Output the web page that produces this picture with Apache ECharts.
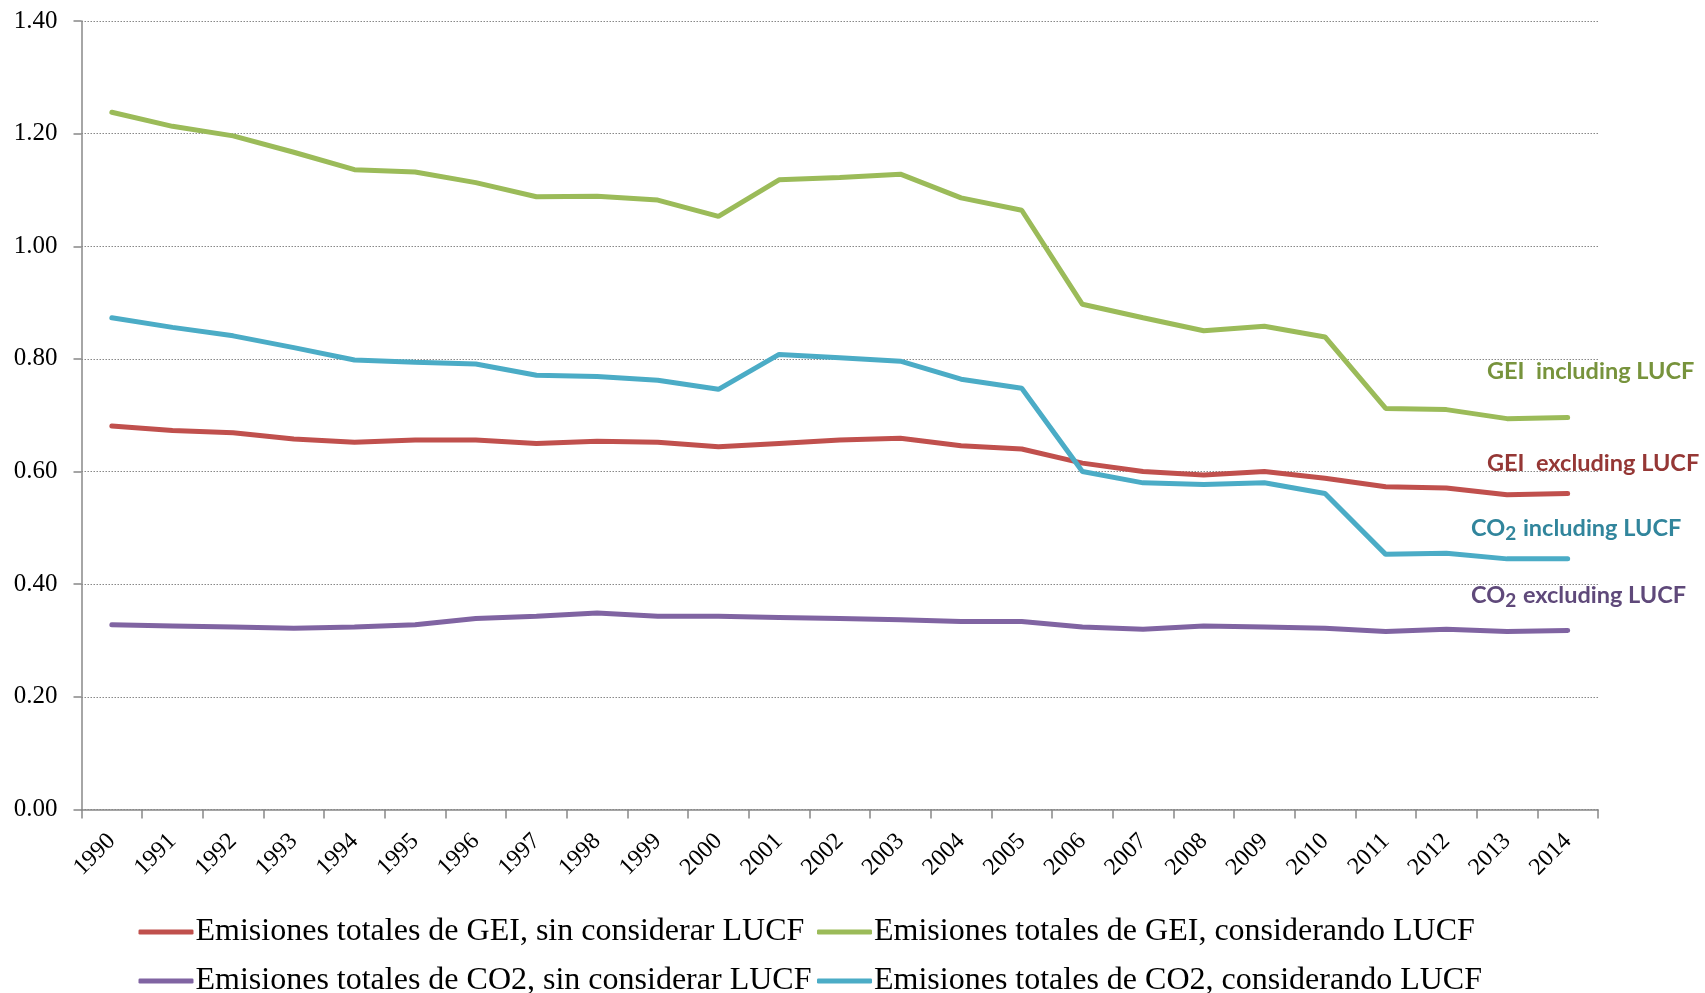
<!DOCTYPE html>
<html>
<head>
<meta charset="utf-8">
<script src="https://cdn.jsdelivr.net/npm/echarts@6/dist/echarts.min.js"></script>
<style>html,body{margin:0;padding:0;background:#fff}#c{width:1705px;height:993px}</style>
</head>
<body>
<div id="c"></div>
<script>
var years = ['1990','1991','1992','1993','1994','1995','1996','1997','1998','1999','2000','2001','2002','2003','2004','2005','2006','2007','2008','2009','2010','2011','2012','2013','2014'];
var yTicks = [0, 0.2, 0.4, 0.6, 0.8, 1.0, 1.2, 1.4];
var gasExcl = [0.681,0.673,0.669,0.658,0.652,0.656,0.656,0.650,0.654,0.652,0.644,0.650,0.656,0.659,0.646,0.640,0.615,0.600,0.594,0.600,0.588,0.573,0.571,0.559,0.561];
var gasIncl = [1.238,1.213,1.196,1.167,1.136,1.132,1.113,1.088,1.089,1.082,1.053,1.118,1.122,1.128,1.086,1.064,0.897,0.873,0.850,0.858,0.839,0.712,0.710,0.694,0.696];
var co2Excl = [0.328,0.326,0.324,0.322,0.324,0.328,0.339,0.343,0.349,0.343,0.343,0.341,0.339,0.337,0.334,0.334,0.324,0.320,0.326,0.324,0.322,0.316,0.320,0.316,0.318];
var co2Incl = [0.873,0.856,0.841,0.820,0.798,0.794,0.791,0.771,0.769,0.762,0.746,0.808,0.802,0.796,0.764,0.748,0.600,0.580,0.577,0.580,0.561,0.453,0.455,0.445,0.445];
var seriesNames = ['Emisiones totales de GEI, sin considerar LUCF','Emisiones totales de GEI, considerando LUCF','Emisiones totales de CO2, sin considerar LUCF','Emisiones totales de CO2, considerando LUCF'];

var colors = ['#C0504D','#9BBB59','#8064A2','#4BACC6'];
var chart = echarts.init(document.getElementById('c'));
var axisColor = '#888888';
function legendAt(name, left, cy) {
  return {
    data: [name], left: left, top: cy - 17, orient: 'horizontal',
    icon: 'roundRect', itemWidth: 55, itemHeight: 5, itemGap: 0,
    textStyle: {fontFamily: 'Liberation Serif', fontSize: 32, color: '#000', padding: [0,0,0,-3]},
    selectedMode: false
  };
}
var labelFont = 'Lato';
function sideLabel(x, y, main, sub, rest, color) {
  var rich = {
    a: {fontFamily: labelFont, fontWeight: 'bold', fontSize: 23.5, fill: color},
    s: {fontFamily: labelFont, fontWeight: 'bold', fontSize: 19, fill: color, padding: [12, 1, 0, 0]}
  };
  var text = sub ? '{a|' + main + '}{s|' + sub + '}{a|' + rest + '}' : '{a|' + main + '}';
  return {type: 'text', x: x, y: y, style: {text: text, rich: rich, verticalAlign: 'middle', align: 'left'}};
}
var option = {
  animation: false,
  color: colors,
  grid: {left: 81.5, right: 107, top: 21, bottom: 183.5, containLabel: false, outerBoundsMode: 'none'},
  legend: [
    legendAt(seriesNames[0], 133.5, 928),
    legendAt(seriesNames[1], 812, 928),
    legendAt(seriesNames[2], 133.5, 977),
    legendAt(seriesNames[3], 812, 977)
  ],
  xAxis: {
    type: 'category', data: years, boundaryGap: true,
    axisLine: {lineStyle: {color: axisColor, width: 1.5}},
    axisTick: {show: true, length: 9, lineStyle: {color: axisColor, width: 1.5}},
    axisLabel: {rotate: 45, fontFamily: 'Liberation Serif', fontSize: 24, color: '#000', margin: 28, interval: 0},
    splitLine: {show: false}
  },
  yAxis: {
    type: 'value', min: 0, max: 1.4, interval: 0.2,
    axisLine: {show: true, lineStyle: {color: axisColor, width: 1.5}},
    axisTick: {show: true, length: 8, lineStyle: {color: axisColor, width: 1.5}},
    axisLabel: {fontFamily: 'Liberation Serif', fontSize: 25, color: '#000', margin: 24,
      formatter: function (v) { return v.toFixed(2); }},
    splitLine: {show: true, lineStyle: {color: '#888', type: [1.5, 1.5], width: 1.2}}
  },
  series: [
    {name: seriesNames[0], type: 'line', data: gasExcl},
    {name: seriesNames[1], type: 'line', data: gasIncl},
    {name: seriesNames[2], type: 'line', data: co2Excl},
    {name: seriesNames[3], type: 'line', data: co2Incl}
  ].map(function (s, i) {
    s.symbol = 'none';
    s.lineStyle = {width: 5, color: colors[i], cap: 'round'};
    s.itemStyle = {color: colors[i]};
    return s;
  }),
  graphic: [
    sideLabel(1487, 371, 'GEI  including LUCF', null, null, '#77933C'),
    sideLabel(1487, 463, 'GEI  excluding LUCF', null, null, '#953735'),
    sideLabel(1471, 528, 'CO', '2', ' including LUCF', '#31859C'),
    sideLabel(1471, 595, 'CO', '2', ' excluding LUCF', '#5F497A')
  ]
};
chart.setOption(option);
</script>
</body>
</html>
